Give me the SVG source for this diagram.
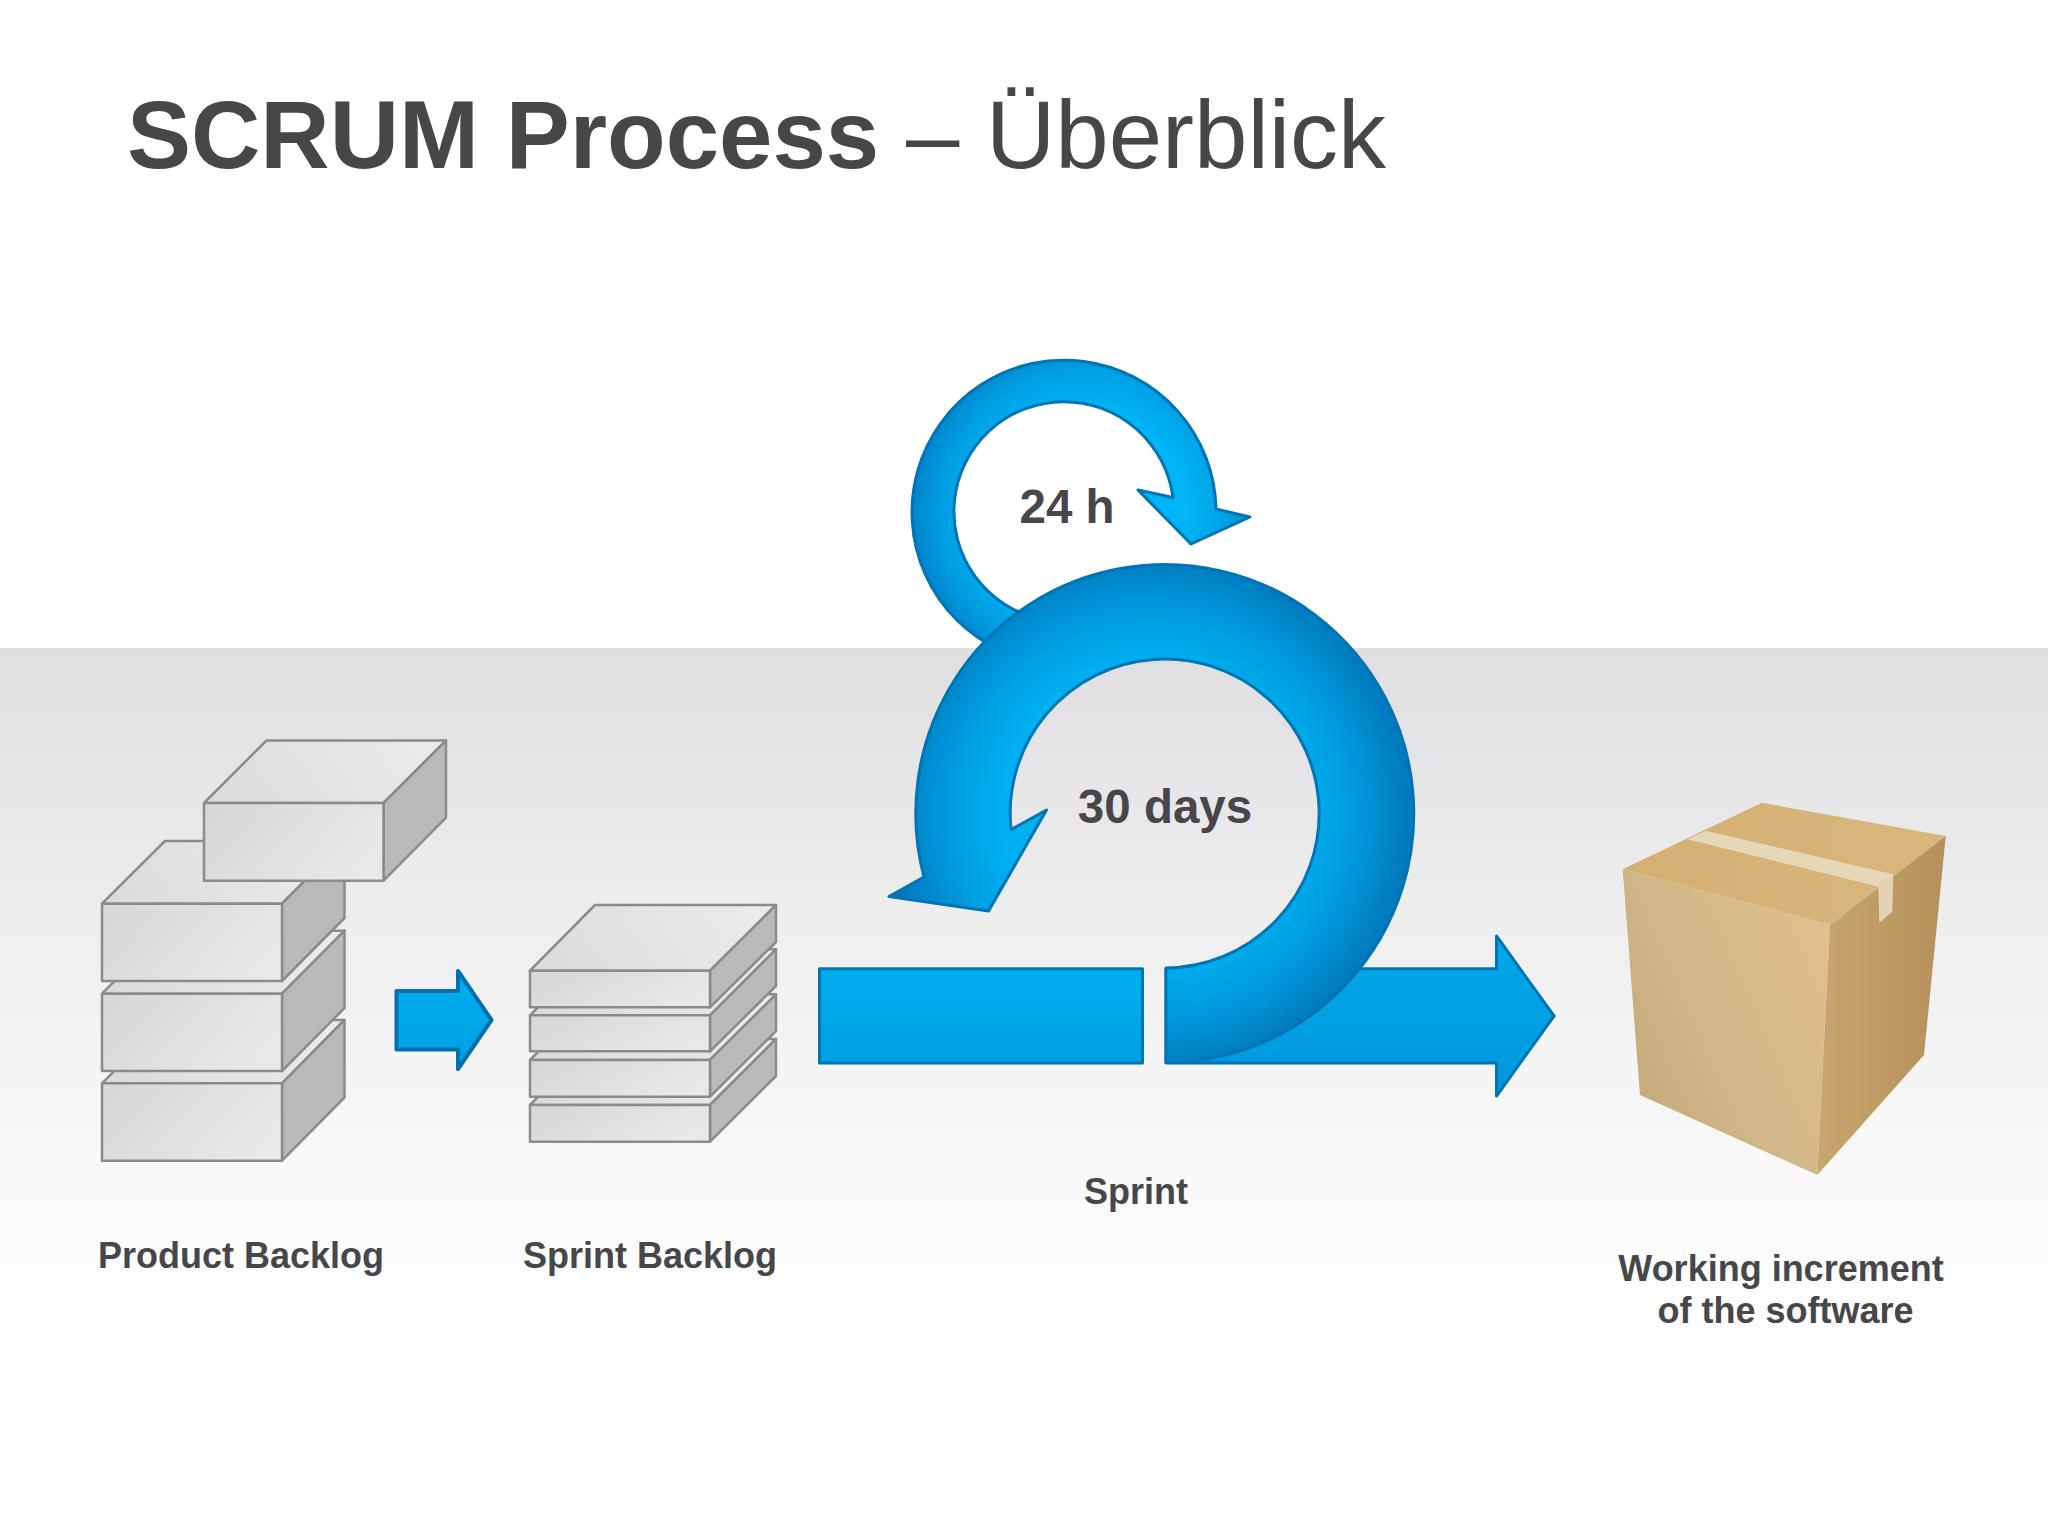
<svg xmlns="http://www.w3.org/2000/svg" width="2048" height="1536" viewBox="0 0 2048 1536">
<defs>
<linearGradient id="bg" x1="0" y1="0" x2="0" y2="1"><stop offset="0" stop-color="#dfdfe1"/><stop offset="0.45" stop-color="#f0f0f1"/><stop offset="0.8" stop-color="#fbfbfc"/><stop offset="1" stop-color="#ffffff"/></linearGradient>
<linearGradient id="fr" x1="0" y1="0.3" x2="1" y2="0.7"><stop offset="0" stop-color="#d8d8d9"/><stop offset="1" stop-color="#e9e9ea"/></linearGradient>
<linearGradient id="tp" x1="0" y1="0.6" x2="1" y2="0.4"><stop offset="0" stop-color="#dcdcdd"/><stop offset="1" stop-color="#ebebec"/></linearGradient>
<radialGradient id="big" gradientUnits="userSpaceOnUse" cx="1150" cy="813.5" r="265"><stop offset="0.56" stop-color="#00b0f1"/><stop offset="0.76" stop-color="#009cdf"/><stop offset="1" stop-color="#0076ba"/></radialGradient>
<radialGradient id="small" gradientUnits="userSpaceOnUse" cx="1085" cy="512" r="178"><stop offset="0.58" stop-color="#00b4f5"/><stop offset="0.8" stop-color="#009fe3"/><stop offset="1" stop-color="#0080c7"/></radialGradient>
<linearGradient id="bar" x1="0" y1="0" x2="0" y2="1"><stop offset="0" stop-color="#00aeef"/><stop offset="1" stop-color="#00a0e3"/></linearGradient>
<linearGradient id="bar2" x1="0" y1="0" x2="0" y2="1"><stop offset="0" stop-color="#00a8ea"/><stop offset="1" stop-color="#0098dc"/></linearGradient>
<linearGradient id="boxF" x1="1" y1="0.2" x2="0" y2="0.85"><stop offset="0" stop-color="#dfc18c"/><stop offset="0.55" stop-color="#d1b688"/><stop offset="1" stop-color="#c2a778"/></linearGradient>
<linearGradient id="boxR" x1="0" y1="0" x2="1" y2="0"><stop offset="0" stop-color="#c9a66e"/><stop offset="1" stop-color="#b5905a"/></linearGradient>
<linearGradient id="boxT" x1="0" y1="0" x2="1" y2="0"><stop offset="0" stop-color="#d4af72"/><stop offset="1" stop-color="#d8b67c"/></linearGradient>
</defs>
<style>
.f{fill:url(#fr);stroke:#8b8b8b;stroke-width:2.5;stroke-linejoin:round}
.t{fill:url(#tp);stroke:#8b8b8b;stroke-width:2.5;stroke-linejoin:round}
.s{fill:#b9b9ba;stroke:#8b8b8b;stroke-width:2.5;stroke-linejoin:round}
.b{stroke:#0074b4;stroke-width:3;stroke-linejoin:round}
text{font-family:"Liberation Sans",Arial,sans-serif;fill:#47474a;font-weight:bold}
</style>
<rect width="2048" height="1536" fill="#ffffff"/>
<rect y="648" width="2048" height="702" fill="url(#bg)"/>
<text id="title" x="127" y="168" font-size="96">SCRUM Process<tspan font-weight="normal"> – Überblick</tspan></text>

<g id="product-backlog">
<g id="pb-3"><path class="t" d="M102 1083.3L165 1020H344.5L282 1083.3Z"/><path class="s" d="M282 1083.3L344.5 1020V1097.5L282 1160.7Z"/><rect class="f" x="102" y="1083.3" width="180" height="77.4"/></g>
<g id="pb-2"><path class="t" d="M102 993.7L165 930.7H344.5L282 993.7Z"/><path class="s" d="M282 993.7L344.5 930.7V1008L282 1071Z"/><rect class="f" x="102" y="993.7" width="180" height="77.3"/></g>
<g id="pb-1"><path class="t" d="M102 903.7L165 841H344.5L282 903.7Z"/><path class="s" d="M282 903.7L344.5 841V918L282 981Z"/><rect class="f" x="102" y="903.7" width="180" height="77.3"/></g>
<g id="pb-top"><path class="t" d="M204 803L266.5 740.5H446L383.5 803Z"/><path class="s" d="M383.5 803L446 740.5V817.7L383.5 880.7Z"/><rect class="f" x="204" y="803" width="179.5" height="77.7"/></g>
</g>

<g id="sprint-backlog">
<g id="sb-4"><path class="t" d="M530 1105L595 1039H776L710 1105Z"/><path class="s" d="M710 1105L776 1039V1076L710 1141.7Z"/><rect class="f" x="530" y="1105" width="180" height="36.7"/></g>
<g id="sb-3"><path class="t" d="M530 1060L595 994.3H776L710 1060Z"/><path class="s" d="M710 1060L776 994.3V1031L710 1096.7Z"/><rect class="f" x="530" y="1060" width="180" height="36.7"/></g>
<g id="sb-2"><path class="t" d="M530 1015.3L595 949.3H776L710 1015.3Z"/><path class="s" d="M710 1015.3L776 949.3V986L710 1051.3Z"/><rect class="f" x="530" y="1015.3" width="180" height="36"/></g>
<g id="sb-1"><path class="t" d="M530 970.7L595 905H776L710 970.7Z"/><path class="s" d="M710 970.7L776 905V942L710 1007.3Z"/><rect class="f" x="530" y="970.7" width="180" height="36.6"/></g>
</g>

<g id="connectors">
<path id="backlog-arrow" d="M396.5 991H458V971L491.5 1020L458 1069V1049.5H396.5Z" fill="url(#bar)" stroke="#0070b0" stroke-width="4" stroke-linejoin="round"/>
</g>

<g id="sprint-loop-24h">
<path class="b" fill="url(#small)" d="M1000 650A152 152 0 1 1 1216 509L1250 517L1191 544L1138 490L1173 497.5A110 110 0 1 0 1040 619Z"/>
</g>
<g id="sprint-bar-left">
<rect class="b" x="819.5" y="968.7" width="323" height="94.3" fill="url(#bar)"/>
</g>
<g id="sprint-arrow-right">
<path class="b" fill="url(#bar2)" d="M1166 968.7H1496.5V936L1554 1016L1496.5 1096V1063H1166Z"/>
</g>
<g id="sprint-loop-30d">
<path class="b" fill="url(#big)" d="M1166 1062.5A249 249 0 1 0 924 877L889 896.5L988.5 911L1046.5 810L1011 829.6A154.5 154.5 0 1 1 1166 968Z"/>
</g>

<g id="working-increment">
<path d="M1622.7 869.3L1761.7 802.7L1945.7 836L1830 925Z" fill="url(#boxT)"/>
<path d="M1622.7 869.3L1830 925L1817.3 1175L1640 1095Z" fill="url(#boxF)"/>
<path d="M1830 925L1945.7 836L1924 1055L1817.3 1175Z" fill="url(#boxR)"/>
<path d="M1687.3 839.3L1706 830.7L1893.3 874.3L1878.3 886.7Z" fill="#e6d7b8"/>
<path d="M1878.3 886.7L1893.3 874.3L1892.3 911.7L1879.3 922.7Z" fill="#e3d3b3"/>
</g>

<g id="labels">
<text x="1067" y="523" font-size="47.5" text-anchor="middle">24 h</text>
<text x="1165" y="823" font-size="47.5" text-anchor="middle">30 days</text>
<text x="98" y="1268" font-size="36">Product Backlog</text>
<text x="523" y="1268" font-size="36">Sprint Backlog</text>
<text x="1084" y="1203.5" font-size="36">Sprint</text>
<text x="1781" y="1281" font-size="36" text-anchor="middle">Working increment</text>
<text x="1785.5" y="1323" font-size="36" text-anchor="middle">of the software</text>
</g>
</svg>
